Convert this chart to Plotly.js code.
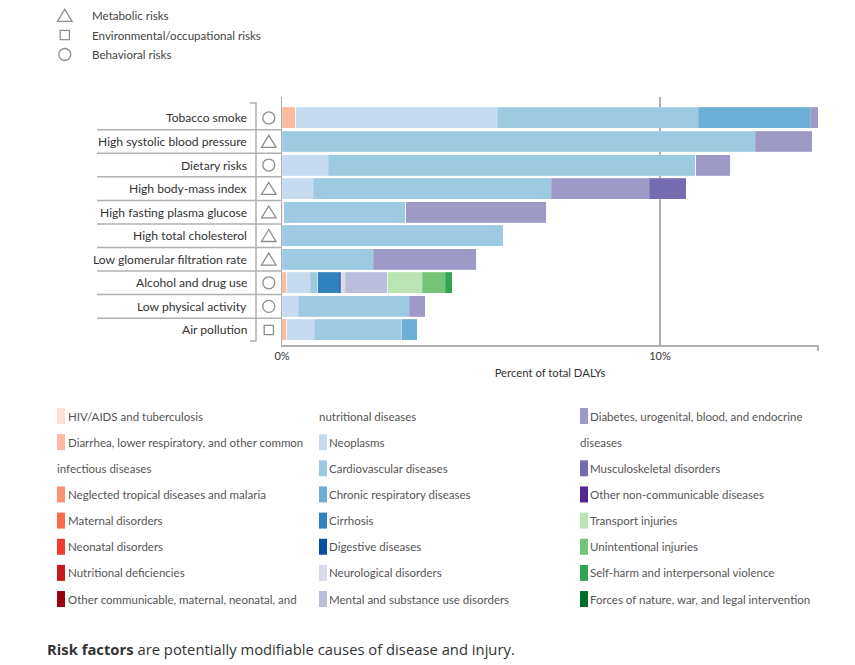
<!DOCTYPE html>
<html><head><meta charset="utf-8">
<script src="https://cdn.plot.ly/plotly-3.0.1.min.js"></script>
<style>html,body{margin:0;padding:0;background:#fff}#chart{width:855px;height:665px}</style>
</head><body><div id="chart"></div>
<script>
// ---------- DATA ----------
const risks = ['Tobacco smoke','High systolic blood pressure','Dietary risks','High body-mass index','High fasting plasma glucose','High total cholesterol','Low glomerular filtration rate','Alcohol and drug use','Low physical activity','Air pollution'];
const riskTypes = ['behavioral','metabolic','behavioral','metabolic','metabolic','metabolic','metabolic','behavioral','behavioral','environmental'];
const riskTypeLegend = [['metabolic','Metabolic risks'],['environmental','Environmental/occupational risks'],['behavioral','Behavioral risks']];

// percent of total DALYs, in the order of `risks`
const hivTb              = [0,    0,     0,    0,    0.05, 0,    0,    0,    0,    0];
const diarrheaLri        = [0.37, 0,     0,    0,    0,    0,    0,    0.13, 0,    0.12];
const ntdMalaria         = [0,    0,     0,    0,    0,    0,    0,    0,    0,    0];
const maternal           = [0,    0,     0,    0,    0,    0,    0,    0,    0,    0];
const neonatal           = [0,    0,     0,    0,    0,    0,    0,    0,    0,    0];
const nutritional        = [0,    0,     0,    0,    0,    0,    0,    0,    0,    0];
const otherCommunicable  = [0,    0,     0,    0,    0,    0,    0,    0,    0,    0];
const neoplasms          = [5.33, 0,     1.22, 0.83, 0,    0,    0,    0.62, 0.43, 0.73];
const cardiovascular     = [5.31, 12.52, 9.73, 6.29, 3.23, 5.85, 2.42, 0.20, 2.94, 2.32];
const chronicRespiratory = [2.97, 0,     0,    0,    0,    0,    0,    0,    0,    0.41];
const cirrhosis          = [0,    0,     0,    0,    0,    0,    0,    0.57, 0,    0];
const digestive          = [0,    0,     0,    0,    0,    0,    0,    0.03, 0,    0];
const neurological       = [0,    0,     0,    0,    0,    0,    0,    0.12, 0,    0];
const mentalSubstance    = [0,    0,     0,    0,    0,    0,    0,    1.13, 0,    0];
const diabetesUro        = [0.21, 1.51,  0.92, 2.60, 3.73, 0,    2.73, 0,    0.42, 0];
const musculoskeletal    = [0,    0,     0,    0.98, 0,    0,    0,    0,    0,    0];
const otherNcd           = [0,    0,     0,    0,    0,    0,    0,    0,    0,    0];
const transport          = [0,    0,     0,    0,    0,    0,    0,    0.91, 0,    0];
const unintentional      = [0,    0,     0,    0,    0,    0,    0,    0.61, 0,    0];
const selfHarm           = [0,    0,     0,    0,    0,    0,    0,    0.18, 0,    0];
const forcesNature       = [0,    0,     0,    0,    0,    0,    0,    0,    0,    0];

const causeValues = [hivTb, diarrheaLri, ntdMalaria, maternal, neonatal, nutritional, otherCommunicable,
  neoplasms, cardiovascular, chronicRespiratory, cirrhosis, digestive, neurological, mentalSubstance,
  diabetesUro, musculoskeletal, otherNcd, transport, unintentional, selfHarm, forcesNature];
// legend label lines (wrapped as in the original)
const causeLabels = [
  ['HIV/AIDS and tuberculosis'],
  ['Diarrhea, lower respiratory, and other common','infectious diseases'],
  ['Neglected tropical diseases and malaria'],
  ['Maternal disorders'],
  ['Neonatal disorders'],
  ['Nutritional deficiencies'],
  ['Other communicable, maternal, neonatal, and','nutritional diseases'],
  ['Neoplasms'],
  ['Cardiovascular diseases'],
  ['Chronic respiratory diseases'],
  ['Cirrhosis'],
  ['Digestive diseases'],
  ['Neurological disorders'],
  ['Mental and substance use disorders'],
  ['Diabetes, urogenital, blood, and endocrine','diseases'],
  ['Musculoskeletal disorders'],
  ['Other non-communicable diseases'],
  ['Transport injuries'],
  ['Unintentional injuries'],
  ['Self-harm and interpersonal violence'],
  ['Forces of nature, war, and legal intervention']
];
const causeColors = ['#fee0d2','#fcbba1','#fc9272','#fb6a4a','#ef3b2c','#cb181d','#99000d',
  '#c6dbef','#9ecae1','#6baed6','#3182bd','#08519c','#dadaeb','#bcbddc',
  '#9e9ac8','#756bb1','#54278f','#bae4b3','#74c476','#31a354','#006d2c'];
const xTickVals = [0, 10];
const xTickText = ['0%', '10%'];
const xMax = 14.18;

// ---------- GEOMETRY HELPERS ----------
const PL = 282, PT = 97, PW = 536, PH = 248;
const px = x => (x - PL) / PW;
const py = y => (PT + PH - y) / PH;
const symColor = '#8e8e8e';

function symbolShape(type, xref, xa, yref, ya) {
  const base = {xref: xref, yref: yref, xsizemode: 'pixel', ysizemode: 'pixel', xanchor: xa, yanchor: ya,
    line: {color: symColor, width: 1.3}, fillcolor: 'rgba(0,0,0,0)'};
  if (type === 'metabolic') return Object.assign(base, {type: 'path', path: 'M-7.3,-5.8 L7.3,-5.8 L0,6.2 Z'});
  if (type === 'environmental') return Object.assign(base, {type: 'rect', x0: -4.6, x1: 4.6, y0: -4.6, y1: 4.6});
  return Object.assign(base, {type: 'circle', x0: -6, x1: 6, y0: -6, y1: 6});
}

// ---------- TRACES ----------
const traces = causeValues.map((vals, i) => ({
  type: 'bar', orientation: 'h', y: risks, x: vals,
  name: causeLabels[i].join(' '),
  marker: {color: causeColors[i], line: {color: 'rgba(255,255,255,0.35)', width: 0.5}},
  showlegend: false, hoverinfo: 'skip'
}));

// ---------- SHAPES & ANNOTATIONS ----------
const shapes = [];
const annotations = [];
const PADFIX = 2.5; // annotation inner padding compensation

// 10% gridline
shapes.push({type: 'line', xref: 'x', x0: 10, x1: 10, yref: 'paper', y0: 0, y1: 1, layer: 'below', line: {color: '#b0b0b0', width: 2}});
// end tick at right of x axis
shapes.push({type: 'line', xref: 'paper', x0: 1, x1: 1, yref: 'paper', y0: 0, y1: -6 / PH, line: {color: '#b0b0b0', width: 2}});
// row separators
for (let k = 0; k < risks.length - 1; k++) {
  shapes.push({type: 'line', xref: 'paper', x0: px(97), x1: 0, yref: 'y', y0: k + 0.5, y1: k + 0.5, line: {color: '#b0b0b0', width: 1.5}});
}
// bracket
shapes.push({type: 'path', xref: 'paper', yref: 'paper',
  path: `M${px(250)},${py(103)} L${px(256)},${py(103)} L${px(256)},${py(341)} L${px(250)},${py(341)}`,
  line: {color: '#b0b0b0', width: 1.5}});
// row labels + symbols
risks.forEach((r, i) => {
  annotations.push({xref: 'paper', x: px(246.5 + PADFIX), yref: 'y', y: r, xanchor: 'right', yanchor: 'middle',
    text: r, showarrow: false, font: {size: 12.1, color: '#333'}});
  shapes.push(symbolShape(riskTypes[i], 'paper', px(268.8), 'y', i));
});
// top symbol legend
riskTypeLegend.forEach(([t, label], i) => {
  const yy = 15.5 + 19.5 * i;
  shapes.push(symbolShape(t, 'paper', px(64.8), 'paper', py(yy)));
  annotations.push({xref: 'paper', yref: 'paper', x: px(92.5 - PADFIX), y: py(yy), xanchor: 'left', yanchor: 'middle',
    text: label, showarrow: false, font: {size: 11.6, color: '#444'}});
});
// bottom cause legend (flowing columns, 8 lines per column)
const colSwatchX = [57, 319, 580];
const colTextX = [68.3, 329.8, 590.7];
const rowY0 = 416, rowPitch = 26.15, perCol = 8;
let slot = 0;
causeLabels.forEach((lines, i) => {
  lines.forEach((line, j) => {
    const c = Math.floor(slot / perCol), r = slot % perCol;
    const yy = rowY0 + rowPitch * r;
    if (j === 0) {
      shapes.push({type: 'rect', xref: 'paper', yref: 'paper', x0: px(colSwatchX[c]), x1: px(colSwatchX[c] + 8),
        y0: py(yy + 8), y1: py(yy - 8), fillcolor: causeColors[i], line: {width: 0}});
    }
    annotations.push({xref: 'paper', yref: 'paper', x: px((j === 0 ? colTextX[c] : colSwatchX[c]) - PADFIX), y: py(yy),
      xanchor: 'left', yanchor: 'middle', text: line, showarrow: false, font: {size: 11.5, color: '#555'}});
    slot++;
  });
});
// footer
annotations.push({xref: 'paper', yref: 'paper', x: px(47 - PADFIX), y: py(649), xanchor: 'left', yanchor: 'middle',
  text: '<b>Risk factors</b> are potentially modifiable causes of disease and injury.', showarrow: false,
  font: {family: '"Open Sans", sans-serif', size: 14.8, color: '#333'}});

const layout = {
  width: 855, height: 665,
  margin: {l: PL, r: 855 - PL - PW, t: PT, b: 665 - PT - PH, pad: 0},
  paper_bgcolor: '#fff', plot_bgcolor: '#fff',
  font: {family: 'Lato, "Open Sans", sans-serif', color: '#333'},
  barmode: 'stack', bargap: 0.11,
  xaxis: {range: [0, xMax], tickvals: xTickVals, ticktext: xTickText, ticks: '', showgrid: false, zeroline: false,
    showline: true, linecolor: '#b0b0b0', linewidth: 1.5, tickfont: {size: 11, color: '#333'},
    title: {text: 'Percent of total DALYs', font: {size: 11.3, color: '#333'}, standoff: 8}, fixedrange: true},
  yaxis: {type: 'category', categoryarray: risks, categoryorder: 'array', range: [9.64, -0.89],
    showticklabels: false, ticks: '', showgrid: false, zeroline: false,
    showline: true, linecolor: '#b0b0b0', linewidth: 1.5, fixedrange: true},
  shapes: shapes, annotations: annotations
};

Plotly.newPlot('chart', traces, layout, {staticPlot: true, displayModeBar: false});
</script>
</body></html>
